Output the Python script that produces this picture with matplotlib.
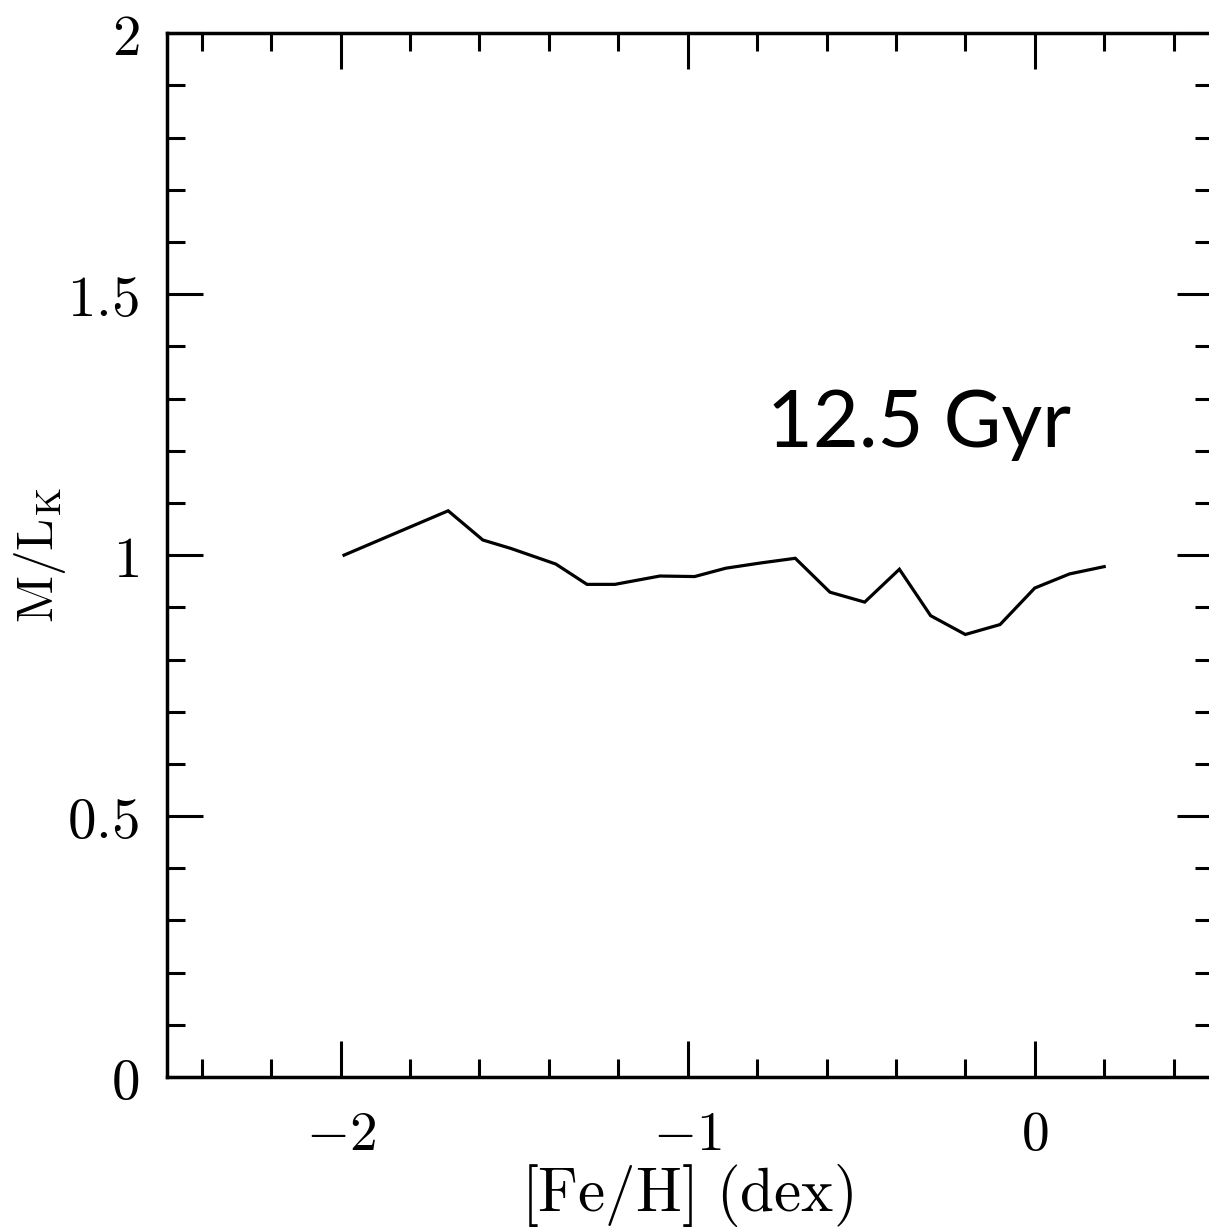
import matplotlib
matplotlib.use("Agg")
import matplotlib.pyplot as plt
from matplotlib.ticker import MultipleLocator

plt.rcParams['mathtext.fontset'] = 'cm'

# [Fe/H] and M/L_K
feh = [-1.99, -1.69, -1.59, -1.51, -1.38, -1.29, -1.21, -1.08, -0.98, -0.89,
       -0.79, -0.69, -0.59, -0.49, -0.39, -0.30, -0.20, -0.10, 0.0, 0.10, 0.20]
ml_k = [1.000, 1.085, 1.029, 1.013, 0.983, 0.944, 0.944, 0.960, 0.959, 0.975,
        0.985, 0.994, 0.929, 0.910, 0.973, 0.884, 0.848, 0.867, 0.937, 0.964, 0.978]

x_ticks = [-2, -1, 0]
x_labels = ['$-2$', '$-1$', '$0$']
y_ticks = [0, 0.5, 1, 1.5, 2]
y_labels = ['$0$', '$0.5$', '$1$', '$1.5$', '$2$']

fig = plt.figure(figsize=(12.092, 12.322), dpi=100)
# the right spine falls just outside the picture, as in the original crop
ax = fig.add_axes([0.1381, 0.1258, 0.8652, 0.847])

ax.plot(feh, ml_k, color='black', lw=2.3, solid_joinstyle='miter')

ax.set_xlim(-2.5, 0.514)
ax.set_ylim(0, 2)
ax.set_xticks(x_ticks)
ax.set_xticklabels(x_labels)
ax.set_yticks(y_ticks)
ax.set_yticklabels(y_labels)
ax.xaxis.set_minor_locator(MultipleLocator(0.2))
ax.yaxis.set_minor_locator(MultipleLocator(0.1))

ax.tick_params(which='both', direction='in', top=True, right=True, width=2.2, color='black')
ax.tick_params(which='major', length=26)
ax.tick_params(which='minor', length=13)
ax.tick_params(axis='x', which='major', labelsize=40, pad=22)
ax.tick_params(axis='y', which='major', labelsize=41, pad=20)
for sp in ax.spines.values():
    sp.set_linewidth(2.5)

ax.set_xlabel(r'$\mathrm{[Fe/H]\ (dex)}$', fontsize=44)
ax.xaxis.set_label_coords(0.497, -0.113)
ax.xaxis.label.set_va('center')
ax.set_ylabel(r'$\mathrm{M/L_K}$', fontsize=37)
ax.yaxis.set_label_coords(-0.1216, 0.5)
ax.yaxis.label.set_va('center')

ax.text(-0.334, 1.207, '12.5 Gyr', fontsize=57, family='Lato',
        ha='center', va='baseline')

fig.savefig('out.png', dpi=100)
